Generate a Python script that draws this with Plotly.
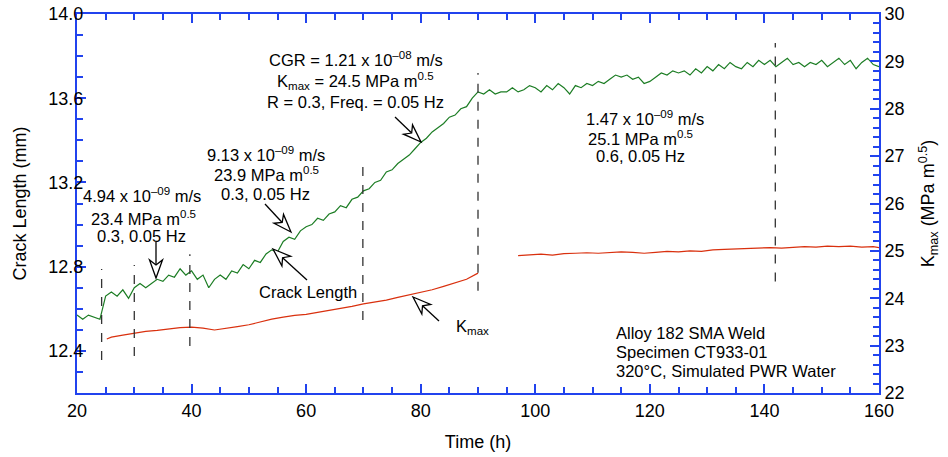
import math
import plotly.graph_objects as go

# ---------------- data ----------------
time_crack = list(range(20, 161))
crack_mm = [
    12.57, 12.55, 12.57, 12.56, 12.55, 12.66, 12.68, 12.66, 12.69, 12.65,  # 20-29
    12.70, 12.72, 12.70, 12.72, 12.74, 12.73, 12.76, 12.75, 12.79, 12.76,  # 30-39
    12.78, 12.74, 12.76, 12.70, 12.74, 12.76, 12.74, 12.78, 12.77, 12.81,  # 40-49
    12.79, 12.83, 12.82, 12.86, 12.88, 12.87, 12.92, 12.94, 12.93, 12.97,  # 50-59
    12.99, 13.00, 13.03, 13.02, 13.05, 13.06, 13.09, 13.08, 13.12, 13.13,  # 60-69
    13.16, 13.17, 13.20, 13.21, 13.25, 13.26, 13.29, 13.31, 13.33, 13.36,  # 70-79
    13.39, 13.41, 13.44, 13.46, 13.48, 13.51, 13.52, 13.55, 13.56, 13.60,  # 80-89
    13.63, 13.62, 13.64, 13.62, 13.63, 13.63, 13.65, 13.63, 13.64, 13.66,  # 90-99
    13.65, 13.63, 13.66, 13.64, 13.67, 13.65, 13.62, 13.66, 13.65, 13.67,  # 100-109
    13.66, 13.68, 13.67, 13.69, 13.71, 13.70, 13.71, 13.69, 13.70, 13.67,  # 110-119
    13.68, 13.70, 13.72, 13.71, 13.73, 13.72, 13.73, 13.71, 13.74, 13.72,  # 120-129
    13.75, 13.73, 13.76, 13.74, 13.77, 13.75, 13.74, 13.77, 13.75, 13.78,  # 130-139
    13.76, 13.78, 13.75, 13.77, 13.79, 13.76, 13.77, 13.75, 13.77, 13.76,  # 140-149
    13.78, 13.75, 13.77, 13.79, 13.76, 13.78, 13.74, 13.77, 13.79, 13.76,  # 150-159
    13.75,                                                                 # 160
]

time_kmax = [25.2, 26, 28, 30, 32, 34, 36, 38, 40, 42, 44, 46, 48, 50, 52, 54, 56,
             58, 60, 62, 64, 66, 68, 70, 72, 74, 76, 78, 80, 82, 84, 86, 88, 90,
             None,
             97, 99, 101, 103, 105, 107, 109, 111, 113, 115, 117, 119, 121, 123,
             125, 127, 129, 131, 133, 135, 137, 139, 141, 143, 145, 147, 149, 151,
             153, 155, 157, 159, 160]
kmax = [23.14, 23.18, 23.22, 23.26, 23.30, 23.32, 23.35, 23.38, 23.39, 23.37,
        23.33, 23.36, 23.40, 23.44, 23.50, 23.56, 23.60, 23.64, 23.66, 23.70,
        23.74, 23.79, 23.83, 23.88, 23.92, 23.96, 24.02, 24.07, 24.12, 24.18,
        24.25, 24.32, 24.40, 24.53,
        None,
        24.90, 24.92, 24.93, 24.91, 24.94, 24.95, 24.96, 24.95, 24.97, 24.98,
        24.97, 24.95, 24.97, 24.99, 24.98, 25.00, 24.99, 25.02, 25.03, 25.04,
        25.05, 25.06, 25.07, 25.06, 25.08, 25.09, 25.08, 25.10, 25.09, 25.10,
        25.08, 25.09, 25.07]

# test-segment boundaries (h) and the extent of each dashed marker (mm)
seg_times = [24.3, 30.0, 39.7, 69.9, 90.0, 141.9]
seg_low = [12.357, 12.376, 12.423, 12.547, 12.686, 12.729]
seg_high = [12.789, 12.808, 12.859, 13.292, 13.720, 13.862]

# ---------------- layout geometry ----------------
W, H = 948, 457
ML, MR, MT, MB = 77, 69, 14, 64
X0, X1 = 20, 160
Y0, Y1 = 12.2, 14.0
K0, K1 = 22, 30

BLUE = "#2143ee"
GREEN = "#1c7d24"
RED = "#d9300e"
FONT = "Arial, Liberation Sans, Helvetica, sans-serif"


def px2x(px):
    return X0 + (px - ML) / (W - ML - MR) * (X1 - X0)


def py2y(py):
    return Y0 + (H - MB - py) / (H - MT - MB) * (Y1 - Y0)


fig = go.Figure()
fig.add_trace(go.Scatter(x=time_crack, y=crack_mm, mode="lines",
                         line=dict(color=GREEN, width=1.2), showlegend=False))
fig.add_trace(go.Scatter(x=time_kmax, y=kmax, mode="lines", yaxis="y2",
                         line=dict(color=RED, width=1.2), showlegend=False,
                         connectgaps=False))

shapes = []
for t, lo, hi in zip(seg_times, seg_low, seg_high):
    shapes.append(dict(type="line", xref="x", yref="y", x0=t, x1=t, y0=lo, y1=hi,
                       line=dict(color="#333333", width=1.3, dash="dash")))


def arrow(tail, tip, head_len=18, head_w=6.5):
    tx, ty = tail
    hx, hy = tip
    dx, dy = hx - tx, hy - ty
    d = math.hypot(dx, dy)
    ux, uy = dx / d, dy / d
    nx, ny = -uy, ux
    bx, by = hx - ux * head_len, hy - uy * head_len
    cx, cy = hx - ux * head_len * 0.72, hy - uy * head_len * 0.72
    p1 = (bx + nx * head_w, by + ny * head_w)
    p2 = (bx - nx * head_w, by - ny * head_w)
    shapes.append(dict(type="line", xref="x", yref="y",
                       x0=px2x(tx), y0=py2y(ty), x1=px2x(cx), y1=py2y(cy),
                       line=dict(color="black", width=1.3)))
    path = "M {},{} L {},{} L {},{} L {},{} Z".format(
        px2x(hx), py2y(hy), px2x(p1[0]), py2y(p1[1]),
        px2x(cx), py2y(cy), px2x(p2[0]), py2y(p2[1]))
    shapes.append(dict(type="path", xref="x", yref="y", path=path,
                       fillcolor="white", line=dict(color="black", width=1.3)))


arrow((156, 242), (156, 278))
arrow((265, 204), (291, 232))
arrow((307, 280), (273, 249))
arrow((395, 117), (421, 142))
arrow((439, 321), (413, 297))

annotations = []


def label(px, py, text, size=16.5, anchor="center"):
    annotations.append(dict(x=px2x(px), y=py2y(py), xref="x", yref="y", text=text,
                            showarrow=False, xanchor=anchor, yanchor="middle",
                            font=dict(family=FONT, size=size, color="black")))


label(142, 195, "4.94 x 10<sup>–09</sup> m/s")
label(143, 218, "23.4 MPa m<sup>0.5</sup>")
label(141, 236, "0.3, 0.05 Hz")

label(266, 154, "9.13 x 10<sup>–09</sup> m/s")
label(266, 174, "23.9 MPa m<sup>0.5</sup>")
label(265, 194, "0.3, 0.05 Hz")

label(356, 59, "CGR = 1.21 x 10<sup>–08</sup> m/s")
label(355, 81, "K<sub>max</sub> = 24.5 MPa m<sup>0.5</sup>")
label(355, 102, "R = 0.3, Freq. = 0.05 Hz")

label(645, 118, "1.47 x 10<sup>–09</sup> m/s")
label(640, 138, "25.1 MPa m<sup>0.5</sup>")
label(640, 156, "0.6, 0.05 Hz")

label(308, 292, "Crack Length")
label(472, 327, "K<sub>max</sub>")

label(614, 333, "Alloy 182 SMA Weld", anchor="left")
label(614, 352, "Specimen CT933-01", anchor="left")
label(614, 371, "320°C, Simulated PWR Water", anchor="left")

tickfont = dict(family=FONT, size=18, color="black")
titlefont = dict(family=FONT, size=18, color="black")

fig.update_layout(
    width=W, height=H,
    margin=dict(l=ML, r=MR, t=MT, b=MB, pad=0, autoexpand=False),
    paper_bgcolor="white", plot_bgcolor="white",
    shapes=shapes, annotations=annotations,
    xaxis=dict(range=[X0, X1], dtick=20, tick0=20, ticks="inside", ticklen=9,
               tickwidth=1.5, tickcolor=BLUE, showline=True, linecolor=BLUE,
               linewidth=2, mirror="ticks", showgrid=False, zeroline=False,
               tickfont=tickfont, automargin=False,
               minor=dict(dtick=5, ticks="inside", ticklen=6, tickcolor=BLUE,
                          tickwidth=1.5, showgrid=False),
               title=dict(text="Time (h)", font=titlefont, standoff=16)),
    yaxis=dict(range=[Y0, Y1], tick0=12.4, dtick=0.4, tickformat=".1f",
               ticks="inside", ticklen=9, tickwidth=1.5, tickcolor=BLUE,
               showline=True, linecolor=BLUE, linewidth=2, showgrid=False,
               zeroline=False, tickfont=tickfont, automargin=False,
               ticklabelstandoff=-12,
               minor=dict(dtick=0.1, tick0=12.2, ticks="inside", ticklen=6,
                          tickcolor=BLUE, tickwidth=1.5, showgrid=False),
               title=dict(text="Crack Length (mm)", font=titlefont, standoff=17)),
    yaxis2=dict(range=[K0, K1], dtick=1, overlaying="y", side="right",
                ticks="inside", ticklen=9, tickwidth=1.5, tickcolor=BLUE,
                showline=True, linecolor=BLUE, linewidth=2, showgrid=False,
                zeroline=False, tickfont=tickfont, automargin=False,
                minor=dict(dtick=0.2, ticks="inside", ticklen=6, tickcolor=BLUE,
                           tickwidth=1.5, showgrid=False),
                title=dict(text="K<sub>max</sub> (MPa m<sup>0.5</sup>)",
                           font=titlefont, standoff=18)),
)

fig.write_html("out.html", config={"displayModeBar": False},
               post_script="document.body.style.margin='0';document.body.style.overflow='hidden';")
